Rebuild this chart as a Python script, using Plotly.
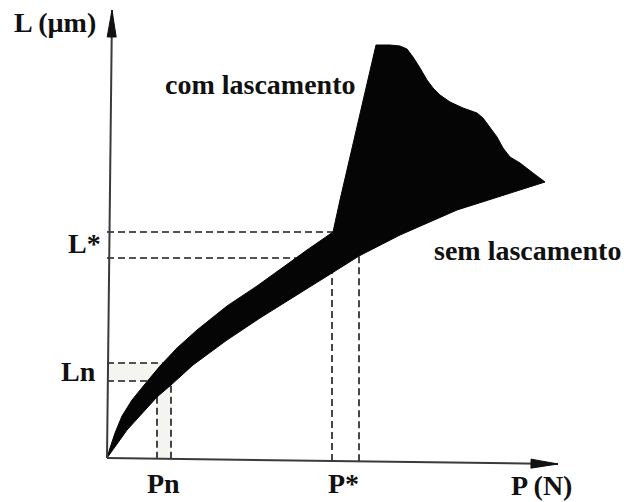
import numpy as np
import plotly.graph_objects as go

# Lower boundary of the indentation band ("sem lascamento"), origin -> right tip
lower_P = [0, 8, 20, 50, 64, 86, 120, 153, 186, 225, 252, 293, 350, 438]
lower_L = [0, 11, 28, 61, 73, 93, 118, 140, 161, 185, 202, 223, 248, 276]

# Upper boundary of the band, origin -> kink at P*
upper_P = [0, 3, 8, 15, 25, 38, 53, 70, 90, 120, 150, 186, 200, 226]
upper_L = [0, 10, 25, 42, 58, 74, 92, 110, 128, 152, 172, 198, 208, 226]

# Outline of the chipped region ("com lascamento"), kink -> top -> right tip
chip_P = [226, 233, 269, 283, 293, 300, 306, 313, 320, 326, 333, 343, 356,
          370, 376, 383, 390, 396, 403, 413, 426, 438]
chip_L = [226, 258, 413, 413, 412, 409, 401, 390, 378, 370, 363, 356, 350,
          345, 340, 331, 321, 310, 301, 295, 285, 276]

# Reference levels marked with dashed guides
Ln_levels = [95, 77]
Pn_levels = [50, 64]
Lstar_levels = [226, 200]
Pstar_levels = [225, 252]

# Axis end points (tips of the arrows)
x_axis_tip = (451, -6)
y_axis_tip = (5, 448)

BLACK = "#050505"
GUIDE = "#1a1a1a"
AXIS = "#3a3a3a"
SHADE = "#f4f4f0"
FONT = dict(family="Liberation Serif, Times New Roman, serif", size=28,
            color="#111111", weight="bold")


def axis_L(p):
    """Height of the (slightly tilted) P axis at abscissa p."""
    return x_axis_tip[1] * p / x_axis_tip[0]


def upper_P_at(level):
    return float(np.interp(level, upper_L, upper_P))


def lower_L_at(p):
    return float(np.interp(p, lower_P, lower_L))


fig = go.Figure()

# light shading between the Ln guides and between the Pn guides
fig.add_trace(go.Scatter(
    x=[0, upper_P_at(Ln_levels[1]) + 10, upper_P_at(Ln_levels[0]) + 10, 0, 0],
    y=[Ln_levels[1], Ln_levels[1], Ln_levels[0], Ln_levels[0], Ln_levels[1]],
    fill="toself", fillcolor=SHADE, line=dict(width=0), mode="lines",
    hoverinfo="skip"))
fig.add_trace(go.Scatter(
    x=[Pn_levels[0], Pn_levels[1], Pn_levels[1], Pn_levels[0], Pn_levels[0]],
    y=[axis_L(Pn_levels[0]), axis_L(Pn_levels[1]),
       lower_L_at(Pn_levels[1]) + 6, lower_L_at(Pn_levels[0]) + 6,
       axis_L(Pn_levels[0])],
    fill="toself", fillcolor=SHADE, line=dict(width=0), mode="lines",
    hoverinfo="skip"))

# dashed guides: horizontals run from the L axis to the upper boundary,
# verticals from the P axis up to the lower boundary
for lvl in Ln_levels + Lstar_levels:
    fig.add_trace(go.Scatter(
        x=[0, upper_P_at(lvl)], y=[lvl, lvl], mode="lines",
        line=dict(color=GUIDE, width=1.6, dash="7px,4px"), hoverinfo="skip"))
for p in Pn_levels + Pstar_levels:
    fig.add_trace(go.Scatter(
        x=[p, p], y=[axis_L(p), lower_L_at(p)], mode="lines",
        line=dict(color=GUIDE, width=1.6, dash="7px,4px"), hoverinfo="skip"))

# black region: lower boundary out to the tip, back over the chipped
# region, down to the kink and along the upper boundary to the origin
shape_P = lower_P + chip_P[::-1] + upper_P[::-1]
shape_L = lower_L + chip_L[::-1] + upper_L[::-1]
fig.add_trace(go.Scatter(
    x=shape_P, y=shape_L, fill="toself", fillcolor=BLACK, mode="lines",
    line=dict(color=BLACK, width=1), hoverinfo="skip"))

# axes with arrow heads
for tip in (x_axis_tip, y_axis_tip):
    fig.add_trace(go.Scatter(x=[0, tip[0]], y=[0, tip[1]], mode="lines",
                             line=dict(color=AXIS, width=2), hoverinfo="skip"))
    d = np.array(tip, dtype=float)
    u = d / np.linalg.norm(d)
    n = np.array([-u[1], u[0]])
    base = d - 27 * u
    tri = [d, base + 4.5 * n, base - 4.5 * n, d]
    fig.add_trace(go.Scatter(
        x=[pt[0] for pt in tri], y=[pt[1] for pt in tri], fill="toself",
        fillcolor="#111111", mode="lines", line=dict(color="#111111", width=1),
        hoverinfo="skip"))

labels = [
    ("L (µm)", -52, 436),
    ("com lascamento", 153, 374),
    ("sem lascamento", 420, 208),
    ("L*", -23, 215),
    ("Ln", -29, 87),
    ("Pn", 56, -25),
    ("P*", 236, -25),
    ("P (N)", 434, -27),
]
for text, x, y in labels:
    fig.add_annotation(x=x, y=y, xref="x", yref="y", text=text, showarrow=False,
                       xanchor="center", yanchor="middle", font=FONT)

fig.update_layout(
    width=624, height=502,
    margin=dict(l=0, r=0, t=0, b=0),
    paper_bgcolor="white", plot_bgcolor="white",
    showlegend=False,
    xaxis=dict(range=[-107, 517], visible=False, fixedrange=True),
    yaxis=dict(range=[-44, 458], visible=False, fixedrange=True),
)

fig.write_html("out.html")
